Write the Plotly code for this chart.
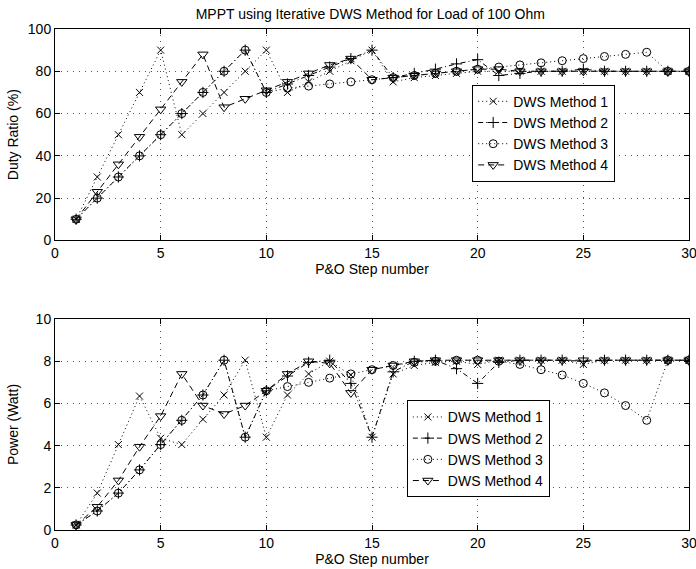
import plotly.graph_objects as go

# ── Data ──────────────────────────────────────────────────────────────────────
steps = list(range(1, 31))

duty_m1 = [10, 30, 50, 70, 90, 50, 60, 70, 80, 90, 70, 75, 80, 85, 90,
           75, 77, 78, 79, 80, 80, 80, 80, 80, 80, 80, 80, 80, 80, 80]
duty_m2 = [10, 20, 30, 40, 50, 60, 70, 80, 90, 70, 74, 78, 82, 86, 90,
           77, 79, 81, 83.5, 85.5, 78, 79, 80, 80, 81, 80, 80, 80, 80, 80]
duty_m3 = [10, 20, 30, 40, 50, 60, 70, 80, 90, 70, 72, 73, 74, 75, 76,
           77, 78, 79, 80, 81, 82, 83, 84, 85, 86, 87, 88, 89, 80, 80]
duty_m4 = [10, 23, 36, 49, 62, 75, 88, 63, 67, 71, 75, 79, 83, 86, 76,
           77, 78, 79, 80, 81, 81, 80, 80, 80, 80, 80, 80, 80, 80, 80]

power_m1 = [0.24, 1.75, 4.05, 6.35, 4.35, 4.05, 5.25, 6.4, 8.05, 4.4, 6.4, 7.4, 8.0, 7.35, 4.4,
            7.4, 7.8, 7.95, 8.0, 7.85, 8.05, 8.05, 8.05, 8.05, 7.85, 8.05, 8.05, 8.05, 8.05, 8.05]
power_m2 = [0.24, 0.9, 1.75, 2.85, 4.05, 5.2, 6.4, 8.05, 4.4, 6.6, 7.3, 7.95, 8.05, 6.95, 4.4,
            7.5, 8.0, 8.05, 7.65, 6.95, 7.95, 8.05, 8.05, 8.05, 8.0, 8.05, 8.05, 8.05, 8.05, 8.05]
power_m3 = [0.24, 0.9, 1.75, 2.85, 4.05, 5.2, 6.4, 8.05, 4.4, 6.6, 6.8, 7.0, 7.2, 7.4, 7.6,
            7.8, 7.95, 8.0, 8.05, 8.05, 8.0, 7.85, 7.6, 7.35, 6.95, 6.5, 5.9, 5.2, 8.05, 8.05]
power_m4 = [0.24, 1.1, 2.35, 3.95, 5.4, 7.4, 5.9, 5.5, 5.9, 6.6, 7.4, 8.0, 7.9, 6.5, 7.6,
            7.8, 8.0, 8.05, 8.05, 8.05, 8.05, 8.05, 8.05, 8.05, 8.05, 8.05, 8.05, 8.05, 8.05, 8.05]

method_names = ["DWS Method 1", "DWS Method 2", "DWS Method 3", "DWS Method 4"]
x_ticks = [0, 5, 10, 15, 20, 25, 30]
duty_ticks = [0, 20, 40, 60, 80, 100]
power_ticks = [0, 2, 4, 6, 8, 10]

# ── Styles (MATLAB-like black markers / line styles) ─────────────────────────
STYLES = [
    dict(symbol="x-thin-open", dash="1px,3px", size=7),
    dict(symbol="cross-thin-open", dash="5px,3px,1px,3px", size=8),
    dict(symbol="circle-open", dash="1px,3px", size=8),
    dict(symbol="triangle-down-open", dash="6px,4px", size=9),
]

fig = go.Figure()

for name, ys, st in zip(method_names, [duty_m1, duty_m2, duty_m3, duty_m4], STYLES):
    fig.add_trace(go.Scatter(
        x=steps, y=ys, name=name, mode="lines+markers",
        xaxis="x", yaxis="y", legend="legend",
        line=dict(color="black", width=1, dash=st["dash"]),
        marker=dict(symbol=st["symbol"], size=st["size"], color="black",
                    line=dict(color="black", width=1)),
    ))

for name, ys, st in zip(method_names, [power_m1, power_m2, power_m3, power_m4], STYLES):
    fig.add_trace(go.Scatter(
        x=steps, y=ys, name=name, mode="lines+markers",
        xaxis="x2", yaxis="y2", legend="legend2",
        line=dict(color="black", width=1, dash=st["dash"]),
        marker=dict(symbol=st["symbol"], size=st["size"], color="black",
                    line=dict(color="black", width=1)),
    ))

FONT = "Liberation Sans, Arial, sans-serif"

axis_common = dict(
    showline=True, linecolor="black", linewidth=1, mirror="allticks",
    ticks="inside", ticklen=5, tickcolor="black", automargin=False,
    ticklabeloverflow="allow",
    showgrid=True, gridcolor="#555", gridwidth=1, griddash="1px,5px",
    zeroline=False, tickfont=dict(size=14, color="black"),
)

fig.update_layout(
    width=696, height=569,
    margin=dict(l=55, r=7, t=29, b=39),
    plot_bgcolor="white", paper_bgcolor="white",
    font=dict(family=FONT, size=14, color="black"),
    title=dict(text="MPPT using Iterative DWS Method for Load of 100 Ohm",
               x=0.532, xanchor="center", y=0.975, yanchor="middle",
               font=dict(size=14)),
    xaxis=dict(axis_common, domain=[0, 1], anchor="y", range=[0, 30],
               tickvals=x_ticks,
               title=dict(text="P&O Step number", standoff=0, font=dict(size=14))),
    yaxis=dict(axis_common, domain=[0.578, 1], anchor="x", range=[0, 100],
               tickvals=duty_ticks,
               title=dict(text="Duty Ratio (%)", standoff=5, font=dict(size=14))),
    xaxis2=dict(axis_common, domain=[0, 1], anchor="y2", range=[0, 30],
                tickvals=x_ticks,
                title=dict(text="P&O Step number", standoff=0, font=dict(size=14))),
    yaxis2=dict(axis_common, domain=[0, 0.421], anchor="x2", range=[0, 10],
                tickvals=power_ticks,
                title=dict(text="Power (Watt)", standoff=13, font=dict(size=14))),
    legend=dict(x=0.658, y=0.792, xanchor="left", yanchor="middle",
                bgcolor="white", bordercolor="black", borderwidth=1,
                font=dict(size=14), tracegroupgap=0, itemwidth=30),
    legend2=dict(x=0.555, y=0.162, xanchor="left", yanchor="middle",
                 bgcolor="white", bordercolor="black", borderwidth=1,
                 font=dict(size=14), tracegroupgap=0, itemwidth=30),
)

# drop the browser's default 8px body margin so the figure sits at the window origin
fig.write_html("out.html", config={"displayModeBar": False},
               post_script="document.body.style.margin = '0px';")
